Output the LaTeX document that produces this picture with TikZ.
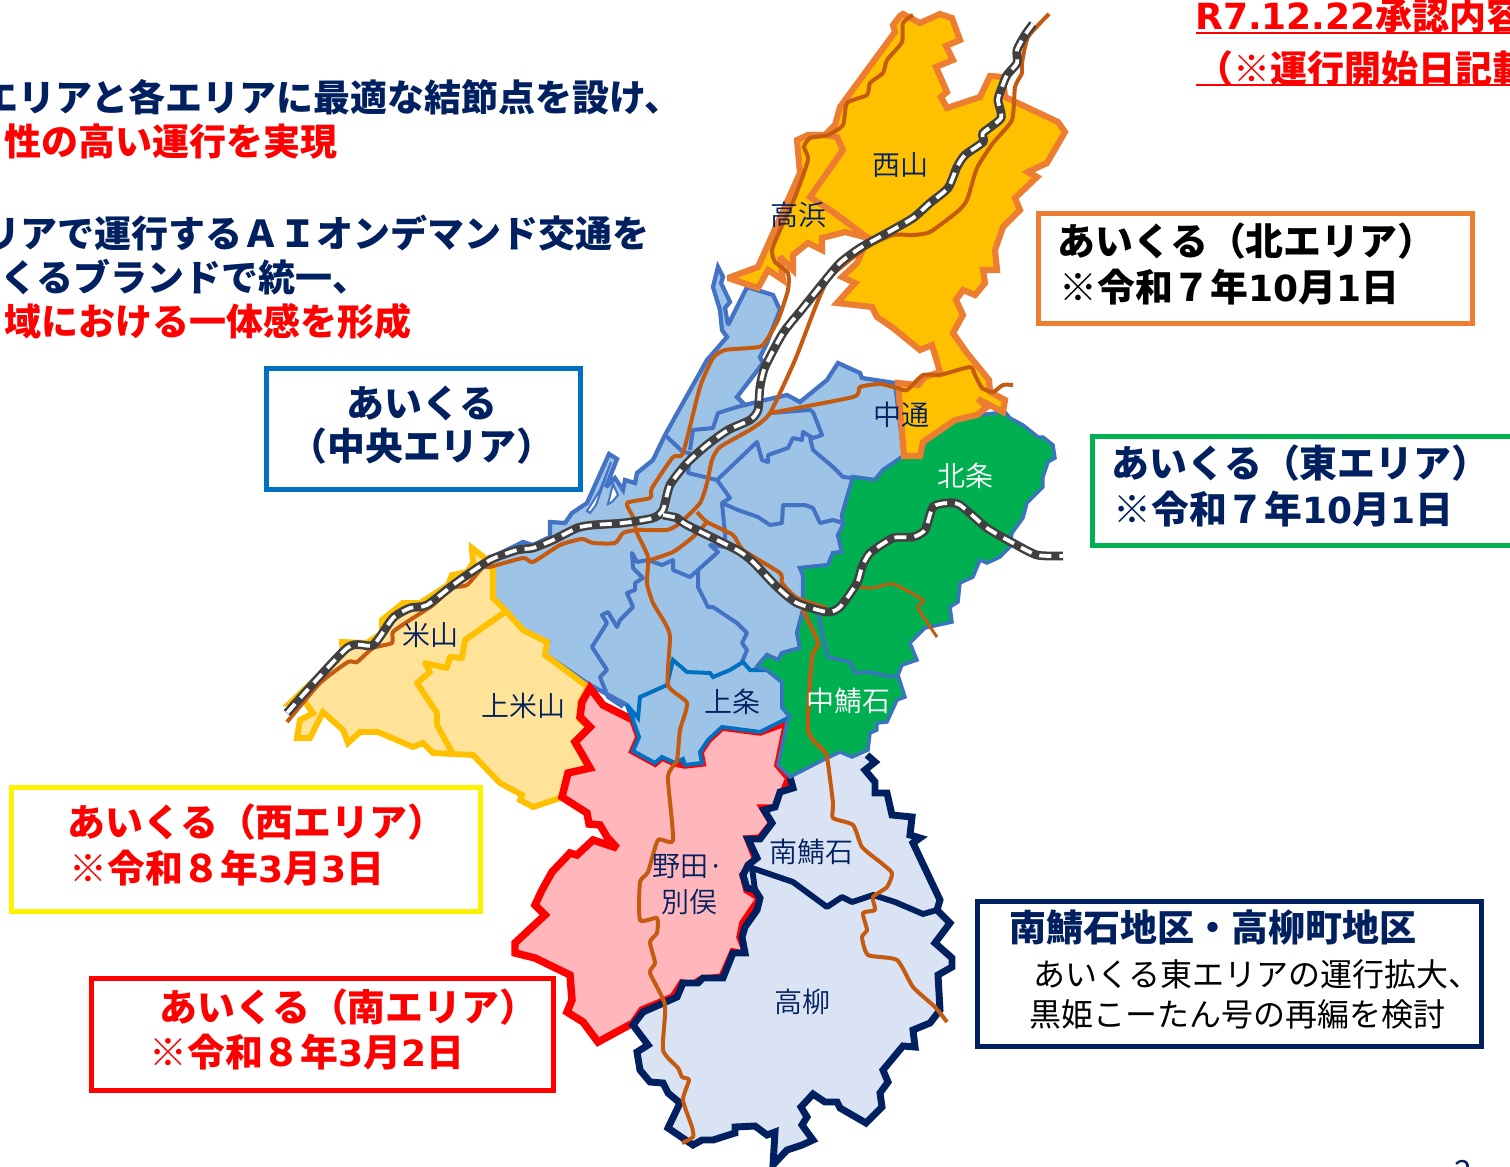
\documentclass[tikz,border=0pt]{standalone}
\usepackage{fontspec}
\setmainfont{Noto Sans CJK JP}
\newfontfamily\jp{Noto Sans CJK JP}
\newfontfamily\jpl{Noto Sans CJK JP DemiLight}
\newfontfamily\lat{DejaVu Sans}
\definecolor{navy}{HTML}{002060}
\definecolor{orangeln}{HTML}{ED7D31}
\definecolor{orangefl}{HTML}{FFC000}
\definecolor{bluefl}{HTML}{9DC3E6}
\definecolor{blueln}{HTML}{4472C4}
\definecolor{bluedk}{HTML}{0070C0}
\definecolor{yellowfl}{HTML}{FFE399}
\definecolor{pinkfl}{HTML}{FFB7BC}
\definecolor{navyfl}{HTML}{DAE3F3}
\definecolor{greenfl}{HTML}{00B050}
\definecolor{greenln}{HTML}{3B74BE}
\definecolor{route}{HTML}{C55A11}
\definecolor{railgr}{HTML}{404040}
\newcommand{\lgfont}{\fontsize{28.4pt}{33pt}\selectfont\jp\bfseries}
\newcommand{\sidefont}{\fontsize{27.75pt}{33pt}\selectfont\jp\bfseries}
\newcommand{\midfont}{\fontsize{24pt}{29pt}\selectfont\jp}
\newcommand{\regfont}{\fontsize{21pt}{25pt}\selectfont\jpl}
\newcommand{\num}[1]{{\lat\bfseries\fontsize{27pt}{33pt}\selectfont #1}}
\tikzset{
  areabox/.style={draw,line width=3.75pt,fill=white,inner sep=0pt,outer sep=0pt,anchor=north west},
  bigtext/.style={font=\lgfont,inner sep=0pt,anchor=west},
  sidetext/.style={font=\sidefont,inner sep=0pt},
  regionlabel/.style={font=\regfont,text=navy,inner sep=0pt},
  routeline/.style={draw=route,line width=3pt,line join=round},
  railbase/.style={draw=railgr,line width=6.6pt},
  raildash/.style={draw=white,line width=2.8pt,dash pattern=on 9pt off 6pt},
  bnd/.style={line join=miter,miter limit=3},
  inner/.style={draw=blueln,line width=3pt,line join=round}
}
\begin{document}
\begin{tikzpicture}[x=0.75pt,y=-0.75pt]
\useasboundingbox (0,0) rectangle (1510,1167);
\clip (0,0) rectangle (1510,1167);
\fill[white] (0,0) rectangle (1510,1167);

% central area
\draw[fill=bluefl,draw=blueln,line width=3.2pt,bnd] (718,267)--(723,277)--(721,283)--(730,302)--(725,308)--(728,325)--(747,287)--(773,295)--(780,310)--(767,343)--(760,357)--(763,363)--(737,397)--(745,405)--(765,400)--(787,395)--(800,402)--(827,380)--(838,363)--(860,373)--(862,378)--(895,383)--(904,456)--(883,470)--(875,480)--(853,477)--(842,515)--(843,525)--(838,535)--(842,552)--(833,553)--(828,565)--(800,568)--(803,575)--(803,610)--(797,633)--(800,648)--(782,653)--(778,660)--(767,655)--(760,663)--(757,667)--(767,670)--(782,682)--(782,707)--(790,717)--(760,732)--(722,727)--(708,740)--(700,752)--(702,763)--(685,765)--(675,763)--(662,757)--(655,763)--(633,751)--(639,737)--(633,720)--(627,705)--(590,685)--(543,653)--(548,642)--(520,630)--(503,608)--(493,597)--(493,567)--(490,557)--(497,555)--(523,542)--(533,545)--(550,537)--(550,522)--(565,523)--(572,513)--(587,503)--(609,454)--(617,459)--(606,487)--(615,478)--(623,490)--(625,480)--(635,483)--(637,473)--(653,460)--(665,435)--(707,360)--(727,337)--(722,330)--(720,310)--(713,287)--cycle;
\draw[fill=white,draw=blueln,line width=1.5pt] (611,462)--(596,505)--(590,513)--(587,511)--(600,490)--cycle;
\draw[fill=white,draw=blueln,line width=1.5pt] (613,484)--(618,495)--(612,502)--(608,504)--cycle;
\path[inner] (665,435)--(683,452)--(690,453)--(688,473)--(717,480)--(730,498)--(722,503)--(725,533)--(725,547)--(710,545)--(718,552)--(698,570)--(690,577)--(673,570)--(673,560)--(662,565)--(648,560)--(637,562)--(632,553)--(633,568)--(643,578)--(635,583)--(635,590)--(627,593)--(633,607)--(620,620)--(617,627)--(608,612)--(602,615)--(607,623)--(592,647)--(607,670)--(600,677)--(608,697)--(623,707);
\path[inner] (698,570)--(698,587)--(708,607)--(713,607)--(737,623)--(747,633)--(742,643)--(747,650)--(742,662);
\path[inner] (690,450)--(693,430)--(713,428)--(718,413)--(737,407)--(745,405);
\path[inner] (717,480)--(757,442)--(762,460)--(768,462)--(768,455)--(788,448)--(793,438)--(802,440)--(803,432)--(813,438)--(822,435)--(813,412)--(810,410)--(770,413);
\path[inner] (810,438)--(813,450)--(833,467)--(843,477)--(853,478);
\path[inner] (722,503)--(738,510)--(758,517)--(770,525)--(782,523)--(783,505)--(805,505)--(813,508)--(820,523)--(833,520)--(843,523);

% west area
\draw[fill=yellowfl,draw=orangefl,line width=4.4pt,bnd] (493,567)--(493,598)--(505,610)--(523,630)--(547,642)--(545,655)--(588,687)--(580,703)--(580,720)--(590,728)--(577,745)--(588,768)--(568,773)--(563,797)--(533,807)--(520,800)--(522,795)--(500,783)--(473,755)--(453,754)--(433,753)--(423,743)--(413,747)--(378,732)--(360,732)--(348,743)--(343,730)--(323,712)--(310,738)--(297,738)--(300,720)--(313,713)--(305,702)--(290,703)--(343,653)--(342,642)--(367,643)--(382,633)--(382,620)--(403,603)--(420,603)--(448,585)--(452,575)--(467,572)--(473,563)--(472,548)--(490,562)--cycle;
\draw[draw=orangefl,line width=4.4pt,line join=round] (505,612)--(465,640)--(462,658)--(450,657)--(447,668)--(425,663)--(430,672)--(417,683)--(437,713)--(437,725)--(453,754);

% south area
\draw[fill=pinkfl,draw=red,line width=5.6pt,bnd] (590,688)--(603,705)--(627,717)--(633,720)--(639,737)--(633,751)--(655,763)--(662,757)--(675,763)--(685,765)--(702,763)--(700,752)--(708,740)--(722,727)--(760,732)--(787,722)--(778,765)--(789,778)--(783,793)--(777,808)--(763,808)--(772,823)--(760,838)--(748,839)--(757,862)--(743,875)--(747,890)--(760,898)--(743,923)--(740,937)--(747,955)--(733,952)--(722,977)--(700,980)--(693,985)--(682,983)--(673,997)--(642,1010)--(633,1023)--(598,1042)--(583,1022)--(567,1012)--(572,1000)--(570,975)--(535,958)--(515,953)--(515,943)--(545,915)--(535,905)--(542,890)--(552,872)--(570,853)--(577,855)--(593,840)--(617,848)--(607,837)--(600,825)--(589,824)--(587,813)--(562,797)--(568,773)--(590,768)--(575,742)--(590,727)--(580,717)--(582,702)--cycle;

% kamijo
\draw[fill=bluefl,draw=bluedk,line width=3pt,bnd] (673,660)--(687,672)--(710,673)--(713,677)--(730,670)--(743,662)--(750,670)--(767,670)--(782,682)--(782,707)--(790,717)--(760,732)--(722,727)--(708,740)--(700,752)--(702,763)--(685,765)--(683,759)--(675,763)--(662,757)--(655,763)--(633,751)--(639,737)--(633,720)--(627,705)--(638,718)--(640,697)--(667,685)--cycle;

% navy area
\fill[navyfl] (790,777)--(793,788)--(780,792)--(775,807)--(764,810)--(772,823)--(760,839)--(748,839)--(757,858)--(748,865)--(743,875)--(747,888)--(755,890)--(760,898)--(757,910)--(745,927)--(742,937)--(745,953)--(733,953)--(723,978)--(703,978)--(698,983)--(683,983)--(677,997)--(643,1012)--(633,1025)--(648,1045)--(637,1052)--(640,1070)--(650,1082)--(663,1083)--(668,1093)--(680,1103)--(668,1128)--(693,1145)--(702,1140)--(713,1140)--(735,1133)--(735,1127)--(755,1126)--(767,1135)--(775,1132)--(773,1165)--(787,1150)--(802,1145)--(813,1140)--(802,1125)--(807,1117)--(801,1107)--(813,1094)--(825,1102)--(837,1102)--(840,1108)--(866,1123)--(882,1107)--(880,1093)--(888,1082)--(883,1070)--(903,1046)--(915,1047)--(913,1030)--(930,1023)--(940,1010)--(938,975)--(952,967)--(952,958)--(935,943)--(950,923)--(937,910)--(940,900)--(913,843)--(920,838)--(910,835)--(912,817)--(892,815)--(887,793)--(875,793)--(875,782)--(865,770)--(875,762)--(867,755)--(852,757)--(840,752)--(823,760)--cycle;
\draw[draw=navy,line width=5.2pt,bnd] (790,777)--(793,788)--(780,792)--(775,807)--(764,810)--(772,823)--(760,839)--(748,839)--(757,858)--(748,865)--(743,875)--(747,888)--(755,890)--(760,898)--(757,910)--(745,927)--(742,937)--(745,953)--(733,953)--(723,978)--(703,978)--(698,983)--(683,983)--(677,997)--(643,1012)--(633,1025)--(648,1045)--(637,1052)--(640,1070)--(650,1082)--(663,1083)--(668,1093)--(680,1103)--(668,1128)--(693,1145)--(702,1140)--(713,1140)--(735,1133)--(735,1127)--(755,1126)--(767,1135)--(775,1132)--(773,1165)--(787,1150)--(802,1145)--(813,1140)--(802,1125)--(807,1117)--(801,1107)--(813,1094)--(825,1102)--(837,1102)--(840,1108)--(866,1123)--(882,1107)--(880,1093)--(888,1082)--(883,1070)--(903,1046)--(915,1047)--(913,1030)--(930,1023)--(940,1010)--(938,975)--(952,967)--(952,958)--(935,943)--(950,923)--(937,910)--(940,900)--(913,843)--(920,838)--(910,835)--(912,817)--(892,815)--(887,793)--(875,793)--(875,782)--(865,770)--(875,762)--(867,755);
\draw[draw=navy,line width=4.4pt,line join=round] (755,890)--(752,868)--(793,882)--(827,907)--(842,897)--(852,902)--(873,895)--(895,902)--(923,914)--(937,910);

% east area
\draw[fill=greenfl,draw=greenln,line width=2.6pt,bnd] (903,456)--(920,456)--(923,442)--(955,420)--(977,415)--(1005,412)--(1010,418)--(1023,425)--(1038,437)--(1043,437)--(1053,445)--(1055,458)--(1048,462)--(1043,477)--(1043,487)--(1027,503)--(1023,518)--(1012,533)--(1010,547)--(1000,557)--(987,563)--(980,560)--(973,577)--(960,583)--(958,602)--(950,607)--(952,622)--(925,628)--(910,643)--(917,660)--(902,665)--(898,675)--(905,697)--(897,700)--(887,722)--(877,723)--(877,730)--(870,733)--(868,750)--(852,757)--(840,752)--(823,760)--(790,777)--(778,765)--(787,722)--(790,717)--(782,707)--(782,682)--(767,670)--(757,667)--(760,663)--(767,655)--(778,660)--(782,653)--(800,648)--(797,633)--(803,610)--(803,575)--(800,568)--(828,565)--(833,553)--(842,552)--(838,535)--(843,525)--(842,515)--(853,477)--(875,480)--(883,470)--cycle;
\draw[draw=greenln,line width=2.6pt,line join=round] (803,603)--(818,613)--(823,637)--(828,657)--(850,662)--(855,673)--(870,672)--(892,677)--(898,675);

% north area
\draw[fill=orangefl,draw=orangeln,line width=4.6pt,bnd] (903,14)--(920,23)--(940,14)--(952,18)--(960,40)--(946,46)--(953,60)--(936,67)--(947,92)--(941,97)--(947,108)--(980,97)--(990,76)--(1003,77)--(1005,97)--(1058,122)--(1065,132)--(1047,163)--(1028,172)--(1037,177)--(1015,198)--(1020,210)--(1003,227)--(995,250)--(997,270)--(983,270)--(985,283)--(975,295)--(963,290)--(956,300)--(963,315)--(953,333)--(967,353)--(989,380)--(990,392)--(1005,400)--(1003,412)--(978,399)--(987,407)--(977,415)--(955,420)--(923,442)--(920,456)--(904,456)--(898,383)--(918,385)--(925,377)--(940,372)--(932,345)--(920,350)--(893,328)--(877,317)--(872,307)--(837,303)--(855,283)--(842,277)--(857,263)--(868,238)--(845,232)--(822,238)--(822,250)--(808,243)--(793,255)--(793,270)--(780,257)--(783,280)--(768,270)--(758,288)--(728,278)--(758,267)--(800,173)--(797,140)--(808,135)--(825,135)--(835,125)--(840,107)--(895,32)--(893,25)--(900,16)--cycle;
\draw[draw=orangeln,line width=4.6pt,line join=miter] (825,135)--(837,137)--(843,150)--(810,197)--(833,212)--(868,238);

% routes
\draw[routeline] plot[smooth,tension=.35] coordinates {(913,15)(903,23)(902,42)(887,60)(883,73)(870,83)(867,95)(847,103)(843,125)(828,135)(810,138)(804,147)(808,160)(795,197)(780,230)(772,250)(775,262)(788,273)(788,290)(778,320)(763,345)(750,348)(725,350)(713,358)(700,387)(683,453)(673,457)(652,488)(650,498)(627,503)(633,517)(637,533)(648,557)(647,583)(653,603)(665,623)(670,637)(668,685)(687,703)(680,730)(677,760)(668,777)(673,840)(658,840)(648,872)(640,882)(640,920)(657,918)(657,933)(650,942)(655,963)(650,973)(665,1005)(663,1050)(678,1068)(682,1077)(689,1080)(683,1100)(692,1127)(693,1137)(682,1143)};
\draw[routeline] plot[smooth,tension=.35] coordinates {(1049,14)(1028,37)(1022,63)(1022,73)(1015,87)(1012,120)(993,143)(977,168)(967,200)(957,212)(930,232)(913,235)(893,235)(867,247)(830,277)(817,303)(795,360)(770,413)(753,428)(720,447)(712,460)(707,483)(700,503)(680,523)(667,530)(637,530)(623,533)(615,543)(593,543)(582,539)(560,545)(533,562)(523,558)(490,567)(483,567)(467,585)(452,588)(433,605)(410,620)(393,632)(392,643)(373,648)(357,662)(348,662)(320,683)(287,722)};
\draw[routeline] plot[smooth,tension=.35] coordinates {(770,413)(853,397)(860,387)(880,384)(897,388)(907,390)(923,375)(940,375)(970,367)(975,375)(982,388)(993,392)(1003,385)(1013,385)};
\draw[routeline] plot[smooth,tension=.35] coordinates {(697,512)(707,522)(733,535)(743,550)(780,573)(782,583)(797,598)(827,608)};
\draw[routeline] plot[smooth,tension=.35] coordinates {(707,522)(693,537)(673,552)(650,560)};
\draw[routeline,line width=2.2pt] plot[smooth,tension=.35] coordinates {(858,587)(873,588)(893,584)(923,600)(918,608)(937,637)};
\draw[routeline] plot[smooth,tension=.35] coordinates {(803,610)(818,643)(812,657)(808,730)(823,750)(827,757)(833,803)(833,818)(853,825)(862,847)(880,862)(892,873)(887,887)(873,897)(875,910)(863,913)(867,930)(862,937)(868,955)(897,960)(913,987)(935,1007)(947,1022)};

% rail
\foreach \st in {railbase,raildash}{
\draw[\st] plot[smooth,tension=.4] coordinates {(1033,24)(1025,35)(1017,50)(1017,63)(1007,75)(1002,87)(998,100)(1001,118)(983,133)(983,142)(965,155)(957,167)(948,188)(930,203)(913,218)(887,233)(860,248)(840,263)(823,283)(803,308)(783,333)(765,367)(760,387)(758,410)(750,420)(728,430)(707,445)(687,463)(670,485)(663,510)(653,518)(623,523)(593,525)(577,528)(553,540)(533,548)(517,550)(490,560)(457,582)(427,605)(410,608)(393,618)(373,645)(347,648)(287,713)};
\draw[\st] plot[smooth,tension=.4] coordinates {(663,515)(677,518)(687,525)(737,550)(753,562)(777,587)(797,603)(827,612)(840,607)(857,583)(862,567)(870,553)(893,538)(913,537)(925,530)(933,507)(947,503)(960,505)(987,528)(1013,543)(1037,555)(1063,556)};
}

% region labels
\node[regionlabel] (nishiyama) at (900,165) {西山};
\node[regionlabel] (takahama) at (798,215) {高浜};
\node[regionlabel] (nakadori) at (901,415) {中通};
\node[regionlabel,text=white] (hojo) at (965,476) {北条};
\node[regionlabel] (yoneyama) at (430,635) {米山};
\node[regionlabel] (kamiyone) at (523,706) {上米山};
\node[regionlabel] (kamijo) at (732,702) {上条};
\node[regionlabel,text=white] (nakasaba) at (848,701) {中鯖石};
\node[regionlabel] (noda) at (688,867) {野田·};
\node[regionlabel] (betsumata) at (689,902) {別俣};
\node[regionlabel] (minamisaba) at (811,852) {南鯖石};
\node[regionlabel] (takayanagi) at (802,1002) {高柳};

% boxes
\node[areabox,draw=orangeln,minimum width=325.5pt,minimum height=82.5pt] (boxn) at (1038,213) {};
\node[areabox,draw=greenfl,minimum width=340pt,minimum height=81.75pt] (boxe) at (1092,436) {};
\node[areabox,draw=bluedk,minimum width=235.5pt,minimum height=90.75pt] (boxc) at (266,368) {};
\node[areabox,draw=yellow,minimum width=351.75pt,minimum height=93pt] (boxw) at (11,787) {};
\node[areabox,draw=red,minimum width=346.5pt,minimum height=84pt] (boxs) at (91,978) {};
\node[areabox,draw=navy,minimum width=378pt,minimum height=108.75pt] (boxk) at (977,901) {};

\node[bigtext,text=black] (tn1) at (1057,241) {あいくる（北エリア）};
\node[bigtext,text=black] (tn2) at (1059,287) {※令和７年\num{10}月\num{1}日};
\node[bigtext,text=navy] (te1) at (1111,463) {あいくる（東エリア）};
\node[bigtext,text=navy] (te2) at (1113,509) {※令和７年\num{10}月\num{1}日};
\node[bigtext,text=navy,anchor=center] (tc1) at (422,403) {あいくる};
\node[bigtext,text=navy,anchor=center] (tc2) at (422,446) {（中央エリア）};
\node[bigtext,text=red] (tw1) at (67,822) {あいくる（西エリア）};
\node[bigtext,text=red] (tw2) at (69,868) {※令和８年\num{3}月\num{3}日};
\node[bigtext,text=red] (ts1) at (159,1007) {あいくる（南エリア）};
\node[bigtext,text=red] (ts2) at (149,1052) {※令和８年\num{3}月\num{2}日};
\node[sidetext,text=navy,anchor=west] (tk1) at (1009,928) {南鯖石地区・高柳町地区};
\node[font=\midfont,text=black,inner sep=0pt,anchor=west] (tk2) at (1033,974) {あいくる東エリアの運行拡大、};
\node[font=\midfont,text=black,inner sep=0pt,anchor=west] (tk3) at (1029,1014) {黒姫こーたん号の再編を検討};

% left text
\node[sidetext,text=navy,anchor=east] (l1) at (682,97) {エリアと各エリアに最適な結節点を設け、};
\node[sidetext,text=red,anchor=east] (l2) at (338,142) {性の高い運行を実現};
\node[sidetext,text=navy,anchor=east] (l3) at (650,233) {リアで運行するＡＩオンデマンド交通を};
\node[sidetext,text=navy,anchor=west] (l4) at (0,277) {くるブランドで統一、};
\node[sidetext,text=red,anchor=east] (l5) at (412,321) {域における一体感を形成};

% header
\node[sidetext,text=red,anchor=west] (h1) at (1195,15) {\num{R7.12.22}承認内容};
\node[sidetext,text=red,anchor=west] (h2) at (1196,68) {（※運行開始日記載};
\coordinate (u1a) at (1196,33); \coordinate (u1b) at (1510,33);
\coordinate (u2a) at (1196,85); \coordinate (u2b) at (1510,85);
\draw[red,line width=2.2pt] (u1a)--(u1b);
\draw[red,line width=2.2pt] (u2a)--(u2b);
\node[regionlabel,font=\fontsize{24pt}{28pt}\selectfont\jp] (pg) at (1463,1172) {2};
\end{tikzpicture}
\end{document}
